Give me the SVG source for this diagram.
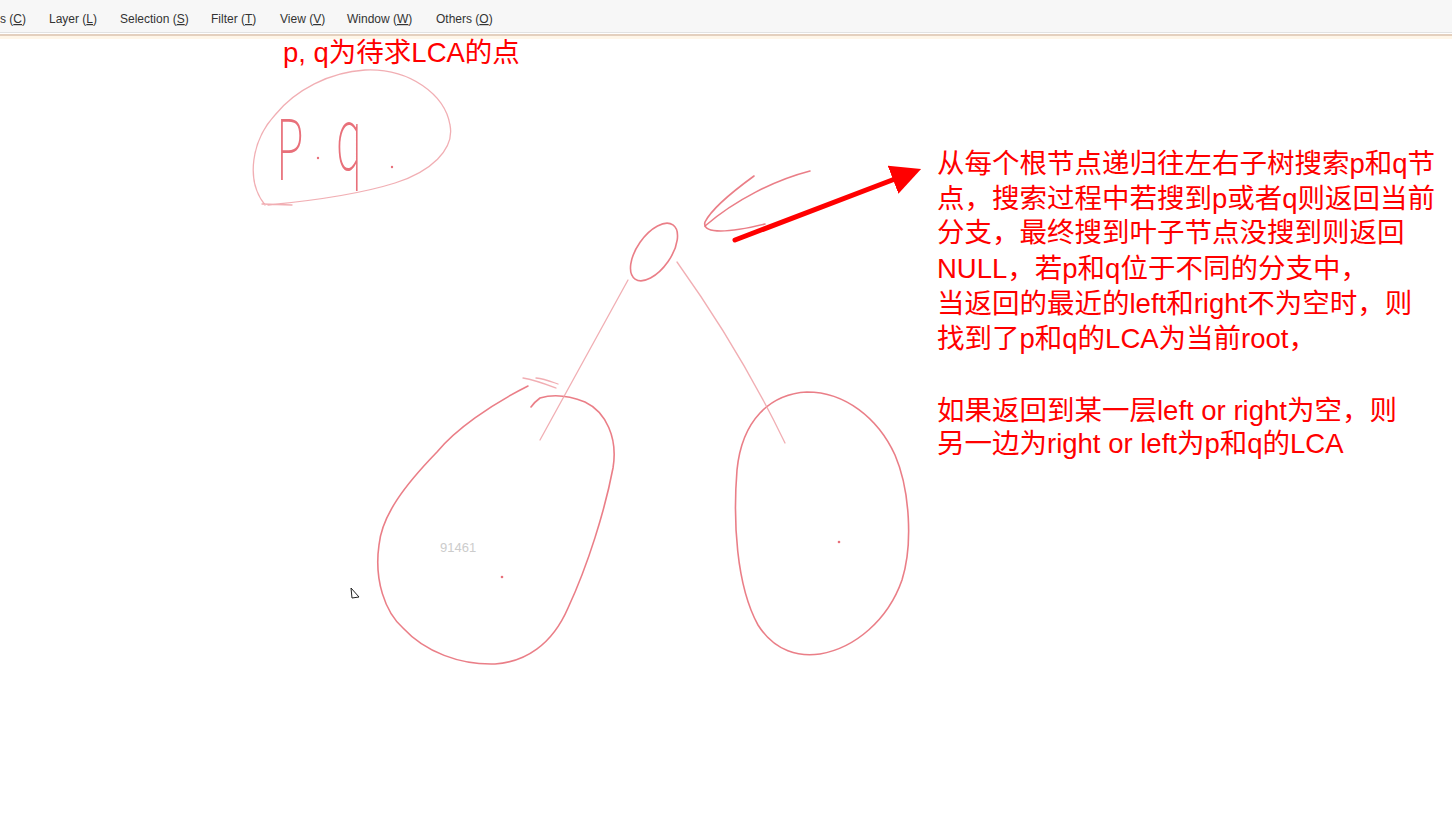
<svg xmlns="http://www.w3.org/2000/svg" width="1452" height="828" viewBox="0 0 1452 828">
<style>
.menu{font-family:"Liberation Sans",Arial,sans-serif;font-size:12px;fill:#333}
.u{text-decoration:underline}
.note{font-family:"Liberation Sans","Noto Sans CJK SC","Microsoft YaHei",sans-serif;font-size:27.5px;fill:#ff0000}
.ink{fill:none;stroke:#e8707a;stroke-width:1.6;stroke-linecap:round;stroke-linejoin:round;opacity:0.9}
.inkl{fill:none;stroke:#eea0a6;stroke-width:1.3;stroke-linecap:round;opacity:0.85}
.hand{font-family:"Noto Sans CJK SC",sans-serif;font-weight:100;fill:#e8707a}
</style>
<defs>
<marker id="ah" markerWidth="6" markerHeight="6" refX="3.2" refY="3" orient="auto" markerUnits="strokeWidth">
<path d="M0,0 L6,3 L0,6 z" fill="#ff0000"/>
</marker>
</defs>
<rect width="1452" height="828" fill="#ffffff"/>
<!-- toolbar -->
<g id="toolbar">
<rect x="0" y="0" width="1452" height="32" fill="#f7f7f7"/>
<line x1="0" y1="32.5" x2="1452" y2="32.5" stroke="#e2e2e2"/>
<line x1="0" y1="35" x2="1452" y2="35" stroke="#c9a27e" stroke-width="1.2"/>
<rect x="0" y="36" width="1452" height="3" fill="#fff6e8"/>
<text class="menu" x="0" y="23">s (<tspan class="u">C</tspan>)</text>
<text class="menu" x="49" y="23">Layer (<tspan class="u">L</tspan>)</text>
<text class="menu" x="120" y="23">Selection (<tspan class="u">S</tspan>)</text>
<text class="menu" x="211" y="23">Filter (<tspan class="u">T</tspan>)</text>
<text class="menu" x="280" y="23">View (<tspan class="u">V</tspan>)</text>
<text class="menu" x="347" y="23">Window (<tspan class="u">W</tspan>)</text>
<text class="menu" x="436" y="23">Others (<tspan class="u">O</tspan>)</text>
</g>
<g id="title">
<text class="note" x="283" y="62">p, q为待求LCA的点</text>
</g>
<!-- p,q bubble -->
<g id="pq">
<path class="inkl" d="M265,205 C245,180 252,140 275,115 C295,90 330,72 365,70 C410,68 445,95 450,125 C455,150 430,172 395,183 C360,194 320,200 268,205 M262,204 L292,205"/>
<text class="hand" x="276" y="180" font-size="84" transform="translate(276,180) scale(0.55,1) translate(-276,-180)">P</text>
<circle cx="318" cy="158" r="1.2" fill="#e8707a"/>
<text class="hand" x="336" y="170" font-size="80" transform="translate(336,170) scale(0.55,1.1) translate(-336,-170)">q</text>
<circle cx="392" cy="167" r="1.2" fill="#e8707a"/>
</g>
<!-- root -->
<g id="root">
<ellipse class="ink" cx="654" cy="252" rx="33" ry="17" transform="rotate(-55 654 252)"/>
</g>
<!-- left subtree -->
<g id="left">
<path class="ink" d="M528,386 C490,405 455,430 437,452 C405,485 382,515 379,545 C374,580 385,612 403,628 C425,652 460,665 495,664 C525,662 552,645 568,608 C588,565 605,510 613,468 C618,438 606,412 585,402 C570,396 553,394 540,398 C536,401 533,404 531,407"/>
<path class="inkl" d="M523,378 C535,380 548,385 556,388 M536,378 C545,379 552,382 558,384"/>
<circle cx="502" cy="577" r="1.3" fill="#e8707a"/>
<text x="440" y="552" font-family="Liberation Sans,Arial,sans-serif" font-size="13" fill="#cccccc">91461</text>
</g>
<!-- right subtree -->
<g id="right">
<path class="ink" d="M807,392 C770,394 742,420 737,470 C733,520 736,585 758,625 C775,652 800,657 820,654 C855,648 888,620 902,580 C913,545 910,490 895,455 C878,418 845,392 807,392 Z"/>
<circle cx="839" cy="542" r="1.3" fill="#e8707a"/>
</g>
<!-- connectors -->
<g id="connectors">
<path class="inkl" d="M628,280 L540,440"/>
<path class="inkl" d="M677,262 Q740,350 785,443"/>
<path class="ink" d="M810,171 C775,180 735,200 705,226"/>
<path class="ink" d="M754,176 C732,192 712,208 705,222 C702,232 720,235 765,224"/>
<line x1="735" y1="240" x2="908" y2="174" stroke="#ff0000" stroke-width="5" stroke-linecap="round" marker-end="url(#ah)"/>
</g>
<g id="note">
<text class="note" x="937" y="173">从每个根节点递归往左右子树搜索p和q节</text>
<text class="note" x="937" y="208">点，搜索过程中若搜到p或者q则返回当前</text>
<text class="note" x="937" y="242">分支，最终搜到叶子节点没搜到则返回</text>
<text class="note" x="937" y="278">NULL，若p和q位于不同的分支中，</text>
<text class="note" x="937" y="313">当返回的最近的left和right不为空时，则</text>
<text class="note" x="937" y="348">找到了p和q的LCA为当前root，</text>
<text class="note" x="937" y="420">如果返回到某一层left or right为空，则</text>
<text class="note" x="937" y="453">另一边为right or left为p和q的LCA</text>
</g>
<!-- cursor -->
<g id="cursor">
<path d="M351,588 L352,598 L359,597 Z" fill="#ffffff" stroke="#222" stroke-width="1"/>
</g>
</svg>
